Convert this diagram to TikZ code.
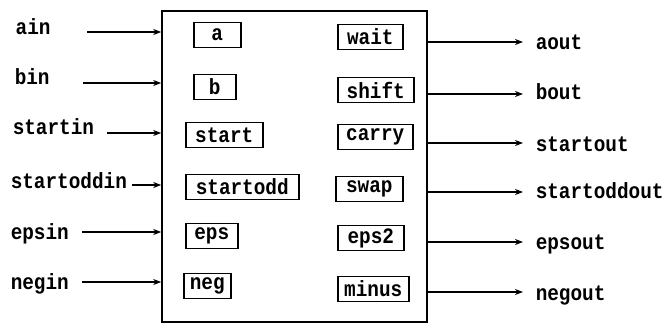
\documentclass[tikz,border=0pt]{standalone}
\usepackage{fontspec}
\newfontfamily\tw{Liberation Mono}[FakeStretch=0.88]
\usetikzlibrary{arrows.meta}
\begin{document}
\begin{tikzpicture}[x=1pt,y=-1pt,
  font=\tw\bfseries\fontsize{22}{24}\selectfont,
  line width=1.5pt,
  lab/.style={anchor=base west, inner sep=0pt},
  cell/.style={draw, anchor=west, minimum height=25pt, inner sep=0pt},
  sig/.style={-{Stealth[length=8pt,width=6pt]}, line width=1.4pt}]
\useasboundingbox (0,0) rectangle (668,331);

% the block
\node[draw, line width=1.6pt, minimum width=265pt, minimum height=311pt, inner sep=0pt] (blk) at (294.5,166.5) {};

% internal registers, left column
\node[cell, minimum width=47pt] (ra)  at (193,35)  {a};
\node[cell, minimum width=42pt] (rb)  at (193,87)  {b};
\node[cell, minimum width=77pt] (rs)  at (185,135) {start};
\node[cell, minimum width=113pt] (rso) at (185,187) {startodd};
\node[cell, minimum width=52pt] (re)  at (185,236) {eps};
\node[cell, minimum width=47pt] (rn)  at (183,286) {neg};

% internal registers, right column
\node[cell, minimum width=65pt] (rw)  at (337,37)  {wait};
\node[cell, minimum width=76pt] (rsh) at (337,90)  {shift};
\node[cell, minimum width=75pt] (rc)  at (337,137) {carry};
\node[cell, minimum width=67pt] (rsw) at (335,189) {swap};
\node[cell, minimum width=66pt] (re2) at (337,238) {eps2};
\node[cell, minimum width=71pt] (rm)  at (337,289) {minus};

% inputs
\node[lab] (ain)  at (15,35)  {ain};
\node[lab] (bin)  at (14,85)  {bin};
\node[lab] (sin)  at (12,135) {startin};
\node[lab] (soin) at (10,188) {startoddin};
\node[lab] (ein)  at (10,239) {epsin};
\node[lab] (nin)  at (10,289) {negin};

\coordinate (i1) at (87,32);
\coordinate (i2) at (83,83);
\coordinate (i3) at (107,133);
\coordinate (i4) at (132,185);
\coordinate (i5) at (82,232);
\coordinate (i6) at (82,282);
\foreach \i in {1,...,6} \draw[sig] (i\i) -- (i\i -| blk.west);

% outputs
\node[lab] (aout)  at (535,50)  {aout};
\node[lab] (bout)  at (535,100) {bout};
\node[lab] (sout)  at (535,152) {startout};
\node[lab] (soout) at (535,198) {startoddout};
\node[lab] (eout)  at (535,249) {epsout};
\node[lab] (nout)  at (535,300) {negout};

\coordinate (o1) at (523,42);
\coordinate (o2) at (523,94);
\coordinate (o3) at (523,143);
\coordinate (o4) at (523,192);
\coordinate (o5) at (523,242);
\coordinate (o6) at (523,292);
\foreach \i in {1,...,6} \draw[sig] (o\i -| blk.east) -- (o\i);
\end{tikzpicture}
\end{document}
